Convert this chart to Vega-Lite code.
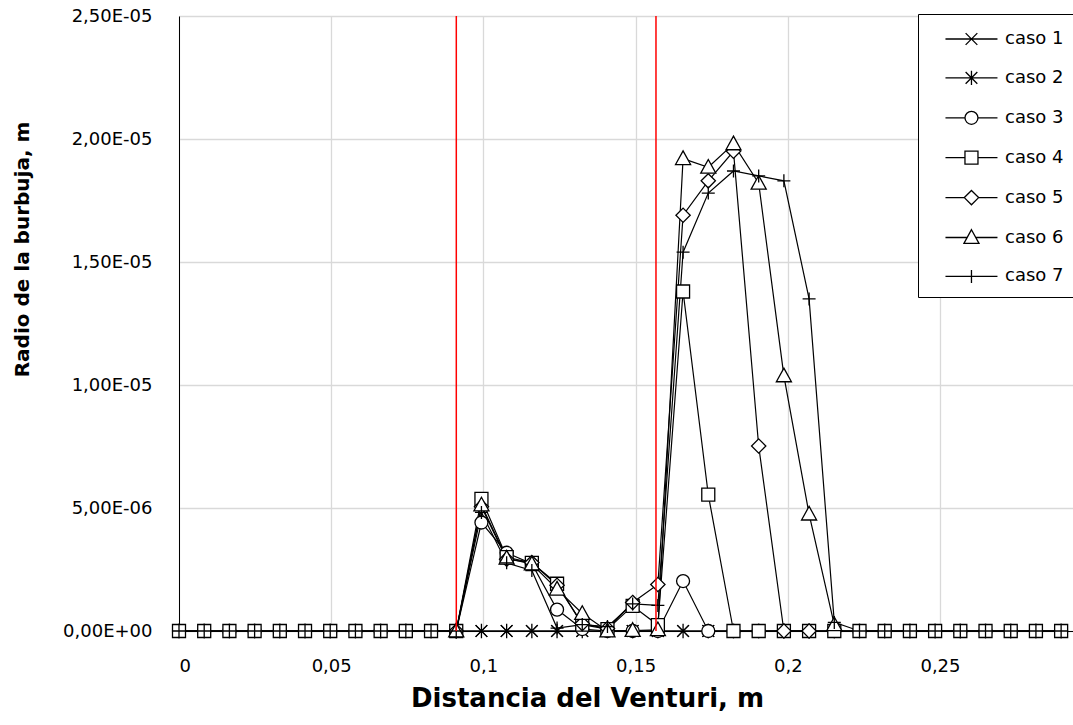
{
  "$schema": "https://vega.github.io/schema/vega-lite/v6.json",
  "width": 1073,
  "height": 725,
  "autosize": {"type": "fit", "contains": "padding"},
  "padding": {"left": 12, "top": 7, "right": 0, "bottom": 14},
  "background": "white",
  "config": {"view": {"stroke": null}, "font": "DejaVu Sans"},
  "datasets": {
    "radios": [
      {"x": 0, "caso 1": 0, "caso 2": 0, "caso 3": 0, "caso 4": 0, "caso 7": 0},
      {"x": 0.00828, "caso 1": 0, "caso 2": 0, "caso 3": 0, "caso 4": 0, "caso 7": 0},
      {"x": 0.01656, "caso 1": 0, "caso 2": 0, "caso 3": 0, "caso 4": 0, "caso 7": 0},
      {"x": 0.02484, "caso 1": 0, "caso 2": 0, "caso 3": 0, "caso 4": 0, "caso 7": 0},
      {"x": 0.03312, "caso 1": 0, "caso 2": 0, "caso 3": 0, "caso 4": 0, "caso 7": 0},
      {"x": 0.0414, "caso 1": 0, "caso 2": 0, "caso 3": 0, "caso 4": 0, "caso 7": 0},
      {"x": 0.04968, "caso 1": 0, "caso 2": 0, "caso 3": 0, "caso 4": 0, "caso 7": 0},
      {"x": 0.05796, "caso 1": 0, "caso 2": 0, "caso 3": 0, "caso 4": 0, "caso 7": 0},
      {"x": 0.06624, "caso 1": 0, "caso 2": 0, "caso 3": 0, "caso 4": 0, "caso 7": 0},
      {"x": 0.07452, "caso 1": 0, "caso 2": 0, "caso 3": 0, "caso 4": 0, "caso 7": 0},
      {"x": 0.0828, "caso 1": 0, "caso 2": 0, "caso 3": 0, "caso 4": 0, "caso 7": 0},
      {"x": 0.09108, "caso 1": 0, "caso 2": 0, "caso 3": 0, "caso 4": 0, "caso 5": 0, "caso 6": 0, "caso 7": 0},
      {"x": 0.09936, "caso 1": 0, "caso 2": 0, "caso 3": 4.41e-6, "caso 4": 5.37e-6, "caso 5": 5.05e-6, "caso 6": 5.12e-6, "caso 7": 4.82e-6},
      {"x": 0.10764, "caso 1": 0, "caso 2": 0, "caso 3": 3.18e-6, "caso 4": 3.0e-6, "caso 5": 2.92e-6, "caso 6": 2.96e-6, "caso 7": 2.77e-6},
      {"x": 0.11592, "caso 1": 0, "caso 2": 0, "caso 3": 2.74e-6, "caso 4": 2.77e-6, "caso 5": 2.78e-6, "caso 6": 2.72e-6, "caso 7": 2.46e-6},
      {"x": 0.1242, "caso 1": 0, "caso 2": 0, "caso 3": 0.87e-6, "caso 4": 1.92e-6, "caso 5": 1.86e-6, "caso 6": 1.7e-6, "caso 7": 0.12e-6},
      {"x": 0.13248, "caso 1": 0, "caso 2": 0, "caso 3": 0.08e-6, "caso 4": 0.26e-6, "caso 5": 0.3e-6, "caso 6": 0.71e-6, "caso 7": 0.26e-6},
      {"x": 0.14076, "caso 1": 0, "caso 2": 0, "caso 3": 0, "caso 4": 0.08e-6, "caso 5": 0.1e-6, "caso 6": 0, "caso 7": 0.18e-6},
      {"x": 0.14904, "caso 1": 0, "caso 2": 0, "caso 3": 0, "caso 4": 1.02e-6, "caso 5": 1.16e-6, "caso 6": 0.02e-6, "caso 7": 1.1e-6},
      {"x": 0.15732, "caso 1": 0, "caso 2": 0, "caso 3": 0, "caso 4": 0.24e-6, "caso 5": 1.89e-6, "caso 6": 0.05e-6, "caso 7": 1.04e-6},
      {"x": 0.1656, "caso 1": 0, "caso 2": 0, "caso 3": 2.03e-6, "caso 4": 1.38e-5, "caso 5": 1.69e-5, "caso 6": 1.92e-5, "caso 7": 1.54e-5},
      {"x": 0.17388, "caso 1": 0, "caso 2": 0, "caso 3": 0, "caso 4": 5.54e-6, "caso 5": 1.83e-5, "caso 6": 1.885e-5, "caso 7": 1.78e-5},
      {"x": 0.18216, "caso 1": 0, "caso 2": 0, "caso 3": 0, "caso 4": 0, "caso 5": 1.95e-5, "caso 6": 1.98e-5, "caso 7": 1.87e-5},
      {"x": 0.19044, "caso 1": 0, "caso 2": 0, "caso 3": 0, "caso 4": 0, "caso 5": 7.52e-6, "caso 6": 1.82e-5, "caso 7": 1.85e-5},
      {"x": 0.19872, "caso 1": 0, "caso 2": 0, "caso 3": 0, "caso 4": 0, "caso 5": 0, "caso 6": 1.037e-5, "caso 7": 1.83e-5},
      {"x": 0.207, "caso 1": 0, "caso 2": 0, "caso 3": 0, "caso 4": 0, "caso 5": 0, "caso 6": 4.75e-6, "caso 7": 1.35e-5},
      {"x": 0.21528, "caso 1": 0, "caso 2": 0, "caso 3": 0, "caso 4": 0, "caso 6": 0.25e-6, "caso 7": 0.35e-6},
      {"x": 0.22356, "caso 1": 0, "caso 2": 0, "caso 3": 0, "caso 4": 0, "caso 7": 0},
      {"x": 0.23184, "caso 1": 0, "caso 2": 0, "caso 3": 0, "caso 4": 0, "caso 7": 0},
      {"x": 0.24012, "caso 1": 0, "caso 2": 0, "caso 3": 0, "caso 4": 0, "caso 7": 0},
      {"x": 0.2484, "caso 1": 0, "caso 2": 0, "caso 3": 0, "caso 4": 0, "caso 7": 0},
      {"x": 0.25668, "caso 1": 0, "caso 2": 0, "caso 3": 0, "caso 4": 0, "caso 7": 0},
      {"x": 0.26496, "caso 1": 0, "caso 2": 0, "caso 3": 0, "caso 4": 0, "caso 7": 0},
      {"x": 0.27324, "caso 1": 0, "caso 2": 0, "caso 3": 0, "caso 4": 0, "caso 7": 0},
      {"x": 0.28152, "caso 1": 0, "caso 2": 0, "caso 3": 0, "caso 4": 0, "caso 7": 0},
      {"x": 0.2898, "caso 1": 0, "caso 2": 0, "caso 3": 0, "caso 4": 0, "caso 7": 0}
    ],
    "limites": [{"xr": 0.0911}, {"xr": 0.1567}]
  },
  "layer": [
    {
      "data": {"name": "radios"},
      "transform": [
        {"fold": ["caso 1", "caso 2", "caso 3", "caso 4", "caso 5", "caso 6", "caso 7"], "as": ["caso", "r"]},
        {"filter": "isValid(datum.r)"}
      ],
      "mark": {"type": "line", "color": "black", "strokeWidth": 1.2},
      "encoding": {
        "x": {
          "field": "x", "type": "quantitative",
          "scale": {"domain": [0, 0.2937], "nice": false, "zero": false},
          "axis": {
            "title": "Distancia del Venturi, m",
            "values": [0, 0.05, 0.1, 0.15, 0.2, 0.25],
            "labelExpr": "replace(format(datum.value, '~g'), '.', ',')",
            "grid": true, "gridColor": "#d9d9d9", "gridWidth": 1.3,
            "ticks": false, "domain": true, "domainColor": "#000000", "domainWidth": 1,
            "labelFontSize": 18, "labelColor": "#000000", "labelPadding": 26,
            "labelFont": "DejaVu Sans",
            "titleFont": "DejaVu Sans", "titleFontSize": 26, "titleFontWeight": "bold",
            "titleColor": "#000000", "titlePadding": 10, "titleX": 408
          }
        },
        "y": {
          "field": "r", "type": "quantitative",
          "scale": {"domain": [0, 2.5e-5], "nice": false},
          "axis": {
            "title": "Radio de la burbuja, m",
            "values": [0, 5e-6, 1e-5, 1.5e-5, 2e-5, 2.5e-5],
            "labelExpr": "replace(replace(replace(format(datum.value, '.2e'), '.', ','), 'e-', 'E-0'), 'e+', 'E+0')",
            "grid": true, "gridColor": "#d9d9d9", "gridWidth": 1.3,
            "ticks": false, "domain": true, "domainColor": "#000000", "domainWidth": 1,
            "labelFontSize": 18, "labelColor": "#000000", "labelPadding": 27,
            "labelFont": "DejaVu Sans",
            "titleFont": "DejaVu Sans", "titleFontSize": 20, "titleFontWeight": "bold",
            "titleColor": "#000000", "titlePadding": 30, "titleY": 233
          }
        },
        "detail": {"field": "caso", "type": "nominal"}
      }
    },
    {
      "data": {"name": "radios"},
      "transform": [
        {"fold": ["caso 1", "caso 2", "caso 3", "caso 4", "caso 5", "caso 6", "caso 7"], "as": ["caso", "r"]},
        {"filter": "isValid(datum.r)"}
      ],
      "mark": {"type": "point", "filled": true, "fill": "white", "stroke": "black", "strokeWidth": 1.3, "size": 676, "opacity": 1},
      "encoding": {
        "x": {"field": "x", "type": "quantitative", "title": "Distancia del Venturi, m"},
        "y": {"field": "r", "type": "quantitative", "title": "Radio de la burbuja, m"},
        "shape": {
          "field": "caso", "type": "nominal", "legend": null,
          "scale": {
            "domain": ["caso 1", "caso 2", "caso 3", "caso 4", "caso 5", "caso 6", "caso 7"],
            "range": [
              "M-0.45,-0.45L0.45,0.45M0.45,-0.45L-0.45,0.45",
              "M-0.45,-0.45L0.45,0.45M0.45,-0.45L-0.45,0.45M0,-0.55L0,0.55",
              "M-0.5,0A0.5,0.5 0 1,1 0.5,0A0.5,0.5 0 1,1 -0.5,0Z",
              "M-0.5,-0.5L0.5,-0.5L0.5,0.5L-0.5,0.5Z",
              "M0,-0.55L0.55,0L0,0.55L-0.55,0Z",
              "M0,-0.6L0.58,0.45L-0.58,0.45Z",
              "M-0.5,0L0.5,0M0,-0.5L0,0.5"
            ]
          }
        }
      }
    },
    {
      "data": {"name": "radios"},
      "transform": [
        {"fold": ["caso 1", "caso 2", "caso 3", "caso 4", "caso 5", "caso 6", "caso 7"], "as": ["caso", "r"]},
        {"filter": "false"}
      ],
      "mark": {"type": "point", "filled": false, "color": "black", "stroke": "black", "strokeWidth": 1.3, "size": 676, "opacity": 1},
      "encoding": {
        "x": {"field": "x", "type": "quantitative", "title": "Distancia del Venturi, m"},
        "y": {"field": "r", "type": "quantitative", "title": "Radio de la burbuja, m"},
        "shape": {
          "field": "caso", "type": "nominal",
          "scale": {
            "domain": ["caso 1", "caso 2", "caso 3", "caso 4", "caso 5", "caso 6", "caso 7"],
            "range": [
              "M0.19,0L4.19,0M1.74,-0.45L2.64,0.45M2.64,-0.45L1.74,0.45",
              "M0.19,0L4.19,0M1.74,-0.45L2.64,0.45M2.64,-0.45L1.74,0.45M2.19,-0.55L2.19,0.55",
              "M0.19,0L1.69,0M2.69,0L4.19,0M1.69,0A0.5,0.5 0 1,1 2.69,0A0.5,0.5 0 1,1 1.69,0Z",
              "M0.19,0L1.69,0M2.69,0L4.19,0M1.69,-0.5L2.69,-0.5L2.69,0.5L1.69,0.5Z",
              "M0.19,0L1.64,0M2.74,0L4.19,0M2.19,-0.55L2.74,0L2.19,0.55L1.64,0Z",
              "M0.19,0L1.86,0M2.52,0L4.19,0M2.19,-0.6L2.77,0.45L1.61,0.45Z",
              "M0.19,0L4.19,0M2.19,-0.5L2.19,0.5"
            ]
          },
          "legend": {
            "title": null, "orient": "top-right", "offset": -2,
            "strokeColor": "black", "fillColor": "white", "padding": 11,
            "symbolSize": 676, "symbolStrokeColor": "black", "symbolFillColor": "white",
            "symbolStrokeWidth": 1.3, "symbolOpacity": 1,
            "labelFont": "DejaVu Sans", "labelFontSize": 18, "labelColor": "black",
            "labelOffset": 48, "rowPadding": 15.9
          }
        }
      }
    },
    {
      "data": {"name": "limites"},
      "mark": {"type": "rule", "color": "#ff0000", "strokeWidth": 1.5},
      "encoding": {
        "x": {"field": "xr", "type": "quantitative", "title": "Distancia del Venturi, m"}
      }
    }
  ],
  "resolve": {"scale": {"shape": "independent"}}
}
